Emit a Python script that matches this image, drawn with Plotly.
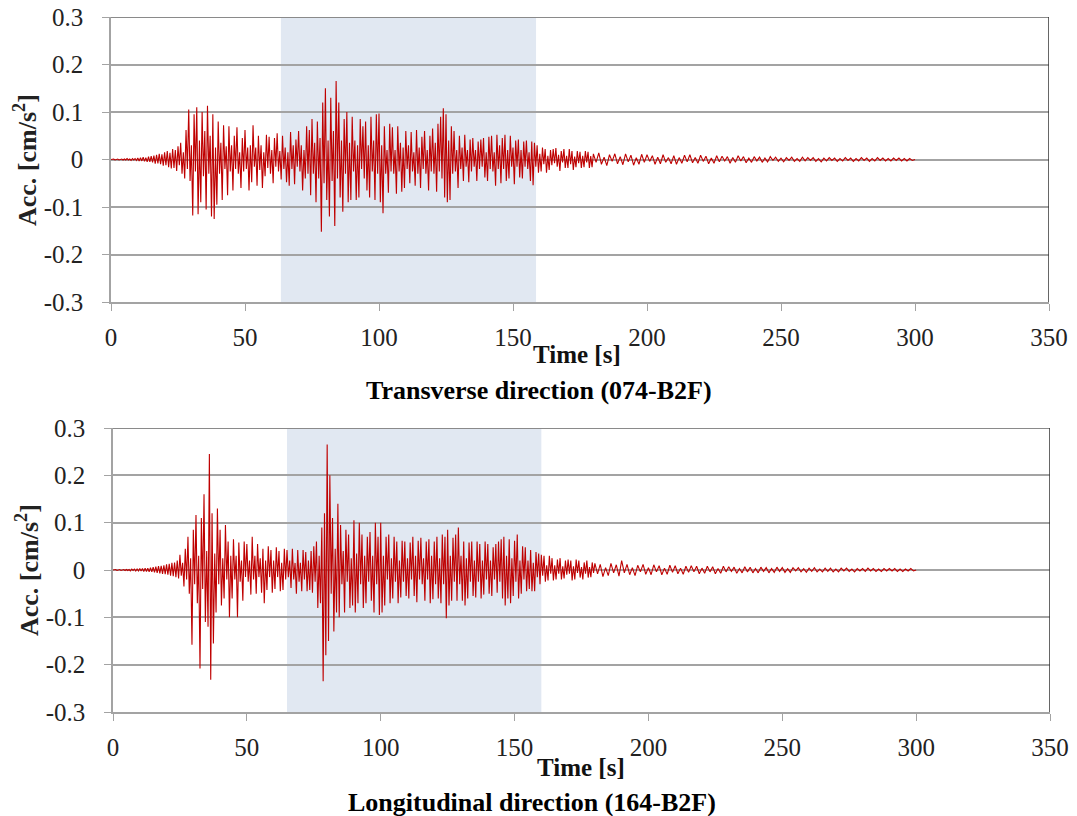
import plotly.graph_objects as go

# time axis: 0.5 s step up to 180 s, then 1 s step to 300 s
time_s = [i * 0.5 for i in range(360)] + list(range(180, 301))

transverse_074 = [
    0.000, 0.000, 0.001, -0.001, 0.000, 0.001, -0.001, 0.000, 0.001, -0.001,
    0.001, -0.001, 0.002, -0.001, 0.001, -0.002, 0.002, -0.001, 0.002, -0.002,
    0.003, -0.003, 0.004, -0.003, 0.005, -0.004, 0.004, -0.005, 0.006, -0.005,
    0.007, -0.006, 0.008, -0.009, 0.010, -0.008, 0.012, -0.010, 0.011, -0.013,
    0.015, -0.012, 0.018, -0.016, 0.014, -0.019, 0.022, -0.018, 0.020, -0.024,
    0.028, -0.012, 0.035, -0.030, 0.015, -0.040, 0.062, -0.020, 0.105, -0.045,
    0.030, -0.118, 0.095, -0.025, 0.110, -0.115, 0.040, -0.090, 0.100, -0.035,
    0.060, -0.105, 0.113, -0.030, 0.050, -0.120, 0.095, -0.125, 0.025, -0.095,
    0.080, -0.030, 0.035, -0.085, 0.072, -0.020, 0.028, -0.075, 0.070, -0.025,
    0.030, -0.065, 0.050, -0.020, 0.068, -0.030, 0.015, -0.060, 0.045, -0.025,
    0.062, -0.020, 0.025, -0.065, 0.030, -0.048, 0.072, -0.015, 0.025, -0.055,
    0.050, -0.022, 0.030, -0.060, 0.015, -0.035, 0.052, -0.018, 0.048, -0.030,
    0.020, -0.050, 0.045, -0.015, 0.055, -0.025, 0.018, -0.042, 0.050, -0.020,
    0.025, -0.048, 0.015, -0.055, 0.058, -0.020, 0.030, -0.052, 0.042, -0.015,
    0.060, -0.025, 0.030, -0.065, 0.020, -0.040, 0.070, -0.030, 0.062, -0.075,
    0.085, -0.030, 0.035, -0.090, 0.080, -0.040, 0.045, -0.152, 0.120, -0.050,
    0.150, -0.085, 0.040, -0.120, 0.130, -0.045, 0.060, -0.140, 0.165, -0.040,
    0.120, -0.080, 0.040, -0.110, 0.085, -0.030, 0.100, -0.090, 0.035, -0.085,
    0.090, -0.025, 0.040, -0.085, 0.030, -0.080, 0.085, -0.020, 0.070, -0.040,
    0.080, -0.065, 0.030, -0.080, 0.090, -0.025, 0.040, -0.085, 0.095, -0.030,
    0.097, -0.090, 0.030, -0.113, 0.070, -0.030, 0.020, -0.070, 0.075, -0.025,
    0.068, -0.030, 0.020, -0.072, 0.070, -0.025, 0.035, -0.068, 0.025, -0.060,
    0.060, -0.020, 0.030, -0.050, 0.058, -0.025, 0.015, -0.055, 0.062, -0.030,
    0.025, -0.060, 0.048, -0.020, 0.060, -0.030, 0.020, -0.065, 0.050, -0.025,
    0.065, -0.030, 0.035, -0.068, 0.075, -0.025, 0.090, -0.040, 0.108, -0.080,
    0.095, -0.090, 0.040, -0.085, 0.070, -0.030, 0.060, -0.025, 0.020, -0.060,
    0.050, -0.020, 0.025, -0.045, 0.052, -0.015, 0.020, -0.048, 0.042, -0.025,
    0.045, -0.015, 0.020, -0.045, 0.038, -0.020, 0.042, -0.015, 0.045, -0.038,
    0.015, -0.045, 0.048, -0.020, 0.050, -0.025, 0.015, -0.055, 0.052, -0.020,
    0.030, -0.050, 0.045, -0.020, 0.052, -0.045, 0.020, -0.040, 0.050, -0.015,
    0.025, -0.052, 0.040, -0.015, 0.042, -0.038, 0.020, -0.040, 0.038, -0.015,
    0.040, -0.020, 0.015, -0.045, 0.038, -0.054, 0.035, -0.015, 0.030, -0.028,
    0.012, -0.025, 0.025, -0.010, 0.022, -0.028, 0.008, -0.022, 0.020, -0.012,
    0.022, -0.008, 0.024, -0.015, 0.010, -0.024, 0.018, -0.006, 0.022, -0.018,
    0.008, -0.018, 0.022, -0.010, 0.018, -0.022, 0.006, -0.016, 0.018, -0.008,
    0.016, -0.018, 0.008, -0.016, 0.018, -0.006, 0.016, -0.018, 0.007, -0.016,
    # 1 s step from 180 s
    0.012, -0.006, 0.014, -0.010, 0.005, -0.013, 0.010, -0.004, 0.012, -0.009,
    0.006, -0.011, 0.012, -0.005, 0.009, -0.012, 0.004, -0.010, 0.011, -0.006,
    0.010, -0.004, 0.008, -0.010, 0.005, -0.009, 0.010, -0.006, 0.004, -0.009,
    0.008, -0.010, 0.004, -0.008, 0.009, -0.005, 0.010, -0.007, 0.004, -0.008,
    0.009, -0.004, 0.007, -0.009, 0.003, -0.008, 0.008, -0.005, 0.007, -0.003,
    0.006, -0.008, 0.004, -0.006, 0.008, -0.003, 0.006, -0.007, 0.003, -0.006,
    0.006, -0.003, 0.005, -0.006, 0.003, -0.005, 0.006, -0.002, 0.005, -0.004,
    0.003, -0.005, 0.004, -0.002, 0.005, -0.004, 0.002, -0.004, 0.005, -0.003,
    0.004, -0.002, 0.004, -0.004, 0.002, -0.005, 0.003, -0.003, 0.004, -0.002,
    0.003, -0.004, 0.002, -0.003, 0.004, -0.002, 0.003, -0.004, 0.002, -0.003,
    0.004, -0.002, 0.003, -0.004, 0.002, -0.003, 0.004, -0.002, 0.003, -0.003,
    0.002, -0.003, 0.003, -0.002, 0.003, -0.003, 0.002, -0.003, 0.002, -0.002, 0.000,
]

longitudinal_164 = [
    0.000, 0.000, 0.001, -0.001, 0.000, 0.001, -0.001, 0.000, 0.001, -0.001,
    0.001, -0.001, 0.001, -0.002, 0.002, -0.001, 0.002, -0.002, 0.002, -0.002,
    0.003, -0.002, 0.003, -0.003, 0.004, -0.003, 0.004, -0.004, 0.005, -0.004,
    0.006, -0.005, 0.007, -0.006, 0.008, -0.007, 0.009, -0.008, 0.010, -0.009,
    0.012, -0.010, 0.013, -0.012, 0.015, -0.013, 0.016, -0.015, 0.020, -0.018,
    0.032, -0.012, 0.015, -0.035, 0.045, -0.020, 0.070, -0.050, 0.025, -0.158,
    0.085, -0.030, 0.116, -0.070, 0.030, -0.208, 0.110, -0.040, 0.160, -0.110,
    0.040, -0.120, 0.245, -0.232, 0.120, -0.155, 0.035, -0.090, 0.130, -0.030,
    0.085, -0.075, 0.025, -0.060, 0.095, -0.020, 0.060, -0.100, 0.030, -0.060,
    0.065, -0.020, 0.030, -0.100, 0.058, -0.025, 0.020, -0.065, 0.060, -0.015,
    0.055, -0.025, 0.020, -0.052, 0.070, -0.020, 0.030, -0.050, 0.055, -0.015,
    0.025, -0.048, 0.045, -0.070, 0.020, -0.042, 0.050, -0.015, 0.042, -0.048,
    0.020, -0.040, 0.048, -0.015, 0.040, -0.045, 0.015, -0.042, 0.045, -0.020,
    0.042, -0.015, 0.020, -0.038, 0.045, -0.020, 0.015, -0.050, 0.042, -0.025,
    0.015, -0.045, 0.042, -0.020, 0.038, -0.045, 0.020, -0.042, 0.040, -0.048,
    0.050, -0.025, 0.060, -0.080, 0.030, -0.070, 0.090, -0.235, 0.120, -0.180,
    0.265, -0.150, 0.200, -0.050, 0.110, -0.130, 0.045, -0.090, 0.140, -0.100,
    0.095, -0.030, 0.040, -0.090, 0.085, -0.025, 0.075, -0.080, 0.025, -0.075,
    0.105, -0.090, 0.035, -0.070, 0.100, -0.030, 0.075, -0.080, 0.030, -0.070,
    0.070, -0.025, 0.080, -0.065, 0.030, -0.090, 0.100, -0.030, 0.070, -0.095,
    0.100, -0.090, 0.030, -0.075, 0.070, -0.020, 0.075, -0.070, 0.025, -0.060,
    0.070, -0.025, 0.060, -0.070, 0.020, -0.058, 0.062, -0.025, 0.060, -0.055,
    0.025, -0.060, 0.058, -0.020, 0.070, -0.055, 0.030, -0.068, 0.062, -0.020,
    0.068, -0.030, 0.025, -0.065, 0.060, -0.020, 0.065, -0.070, 0.030, -0.062,
    0.060, -0.030, 0.070, -0.060, 0.025, -0.070, 0.075, -0.030, 0.070, -0.102,
    0.085, -0.075, 0.030, -0.065, 0.068, -0.025, 0.075, -0.065, 0.090, -0.030,
    0.030, -0.065, 0.060, -0.075, 0.025, -0.060, 0.058, -0.025, 0.060, -0.055,
    0.020, -0.058, 0.060, -0.025, 0.055, -0.060, 0.020, -0.052, 0.060, -0.020,
    0.055, -0.050, 0.020, -0.055, 0.048, -0.020, 0.055, -0.048, 0.060, -0.025,
    0.065, -0.060, 0.070, -0.075, 0.030, -0.060, 0.065, -0.070, 0.025, -0.055,
    0.062, -0.025, 0.075, -0.060, 0.020, -0.050, 0.050, -0.020, 0.048, -0.045,
    0.020, -0.040, 0.042, -0.045, 0.015, -0.045, 0.038, -0.015, 0.035, -0.030,
    0.032, -0.012, 0.030, -0.025, 0.010, -0.022, 0.030, -0.008, 0.025, -0.022,
    0.010, -0.020, 0.022, -0.008, 0.025, -0.020, 0.008, -0.018, 0.020, -0.010,
    0.022, -0.008, 0.020, -0.022, 0.008, -0.020, 0.022, -0.006, 0.020, -0.016,
    0.006, -0.020, 0.016, -0.008, 0.020, -0.016, 0.006, -0.015, 0.016, -0.006,
    # 1 s step from 180 s
    0.014, -0.008, 0.012, -0.014, 0.005, -0.012, 0.014, -0.006, 0.011, -0.013,
    0.020, -0.006, 0.012, -0.010, 0.005, -0.012, 0.010, -0.004, 0.012, -0.009,
    0.005, -0.010, 0.011, -0.004, 0.009, -0.010, 0.004, -0.009, 0.010, -0.005,
    0.009, -0.008, 0.004, -0.009, 0.008, -0.005, 0.009, -0.004, 0.008, -0.008,
    0.004, -0.007, 0.008, -0.004, 0.007, -0.008, 0.003, -0.007, 0.008, -0.004,
    0.007, -0.003, 0.006, -0.007, 0.003, -0.006, 0.007, -0.004, 0.006, -0.006,
    0.003, -0.006, 0.006, -0.003, 0.005, -0.006, 0.003, -0.005, 0.006, -0.003,
    0.005, -0.005, 0.003, -0.005, 0.005, -0.002, 0.005, -0.004, 0.003, -0.005,
    0.004, -0.003, 0.005, -0.004, 0.002, -0.004, 0.004, -0.003, 0.004, -0.004,
    0.002, -0.004, 0.004, -0.002, 0.004, -0.003, 0.002, -0.004, 0.003, -0.002,
    0.003, -0.003, 0.004, -0.002, 0.003, -0.003, 0.002, -0.003, 0.003, -0.002,
    0.003, -0.002, 0.003, -0.003, 0.002, -0.003, 0.002, -0.002, 0.003, -0.002, 0.000,
]

shaded_top = (63.4, 158.6)
shaded_bottom = (65.0, 160.0)

x_ticks = [0, 50, 100, 150, 200, 250, 300, 350]
y_ticks = [-0.3, -0.2, -0.1, 0, 0.1, 0.2, 0.3]
y_ticktext = ["-0.3", "-0.2", "-0.1", "0", "0.1", "0.2", "0.3"]

titles = ["Transverse direction (074-B2F)", "Longitudinal direction (164-B2F)"]

W, H = 1077, 816
SERIF = "Liberation Serif, Times New Roman, serif"
RED = "#bf0000"
GRID = "#a3a3a3"

fig = go.Figure()
fig.add_trace(go.Scatter(x=time_s, y=transverse_074, mode="lines",
                         line=dict(color=RED, width=1.1), xaxis="x", yaxis="y",
                         showlegend=False, hoverinfo="skip"))
fig.add_trace(go.Scatter(x=time_s, y=longitudinal_164, mode="lines",
                         line=dict(color=RED, width=1.1), xaxis="x2", yaxis="y2",
                         showlegend=False, hoverinfo="skip"))

# plot areas in pixels: (left, right, top, bottom)
areas = [(111, 1049, 17, 302), (113, 1050, 428, 712)]

def xdom(a):
    return [a[0] / W, a[1] / W]

def ydom(a):
    return [1 - a[3] / H, 1 - a[2] / H]

tickfont = dict(family=SERIF, size=25, color="#222222")

def xaxis_cfg(a, anchor):
    return dict(domain=xdom(a), anchor=anchor, range=[0, 350], tickvals=x_ticks,
                showgrid=False, zeroline=False, showline=True, linecolor=GRID,
                linewidth=1.5, ticks="outside", ticklen=7, tickcolor=GRID,
                tickwidth=1.2, tickfont=tickfont, ticklabelstandoff=5,
                automargin=False, fixedrange=True)

def yaxis_cfg(a, anchor):
    return dict(domain=ydom(a), anchor=anchor, range=[-0.3, 0.3], tickvals=y_ticks,
                ticktext=y_ticktext, showgrid=True, gridcolor=GRID, gridwidth=1.5,
                zeroline=False, showline=True, linecolor=GRID, linewidth=1.5,
                ticks="outside", ticklen=7, tickcolor=GRID, tickwidth=1.2,
                tickfont=tickfont, ticklabelstandoff=14, automargin=False,
                fixedrange=True)

fig.update_layout(
    width=W, height=H, margin=dict(l=0, r=0, t=0, b=0, autoexpand=False),
    paper_bgcolor="white", plot_bgcolor="white",
    xaxis=xaxis_cfg(areas[0], "y"), yaxis=yaxis_cfg(areas[0], "x"),
    xaxis2=xaxis_cfg(areas[1], "y2"), yaxis2=yaxis_cfg(areas[1], "x2"),
)

shapes = []
for (xr, yr, sh) in [("x", "y", shaded_top), ("x2", "y2", shaded_bottom)]:
    shapes.append(dict(type="rect", xref=xr, yref=yr, x0=sh[0], x1=sh[1],
                       y0=-0.3, y1=0.3, fillcolor="#e1e8f2", line=dict(width=0),
                       layer="below"))
    shapes.append(dict(type="line", xref=xr, yref=yr, x0=0, x1=350, y0=0.3, y1=0.3,
                       line=dict(color="#8a8a8a", width=1.8), layer="above"))
    shapes.append(dict(type="line", xref=xr, yref=yr, x0=350, x1=350, y0=-0.3, y1=0.3,
                       line=dict(color="#333333", width=1.5), layer="above"))
fig.update_layout(shapes=shapes)

ann = []
label_pos = [
    # (ytitle x, ytitle y, time x, time y, title x, title y)
    (26, 160, 577, 354, 539, 390),
    (27, 570, 581, 767, 532, 802),
]
for i, (yx, yy, tx, ty, cx, cy) in enumerate(label_pos):
    ann.append(dict(text="<b>Acc. [cm/s<sup>2</sup>]</b>", x=yx / W, y=1 - yy / H,
                    xref="paper", yref="paper", showarrow=False, textangle=-90,
                    font=dict(family=SERIF, size=26, color="#222222"),
                    xanchor="center", yanchor="middle"))
    ann.append(dict(text="<b>Time [s]</b>", x=tx / W, y=1 - ty / H, xref="paper",
                    yref="paper", showarrow=False,
                    font=dict(family=SERIF, size=25, color="#111111"),
                    xanchor="center", yanchor="middle"))
    ann.append(dict(text="<b>" + titles[i] + "</b>", x=cx / W, y=1 - cy / H,
                    xref="paper", yref="paper", showarrow=False,
                    font=dict(family=SERIF, size=26, color="#000000"),
                    xanchor="center", yanchor="middle"))
fig.update_layout(annotations=ann)

fig.write_html("out.html")
